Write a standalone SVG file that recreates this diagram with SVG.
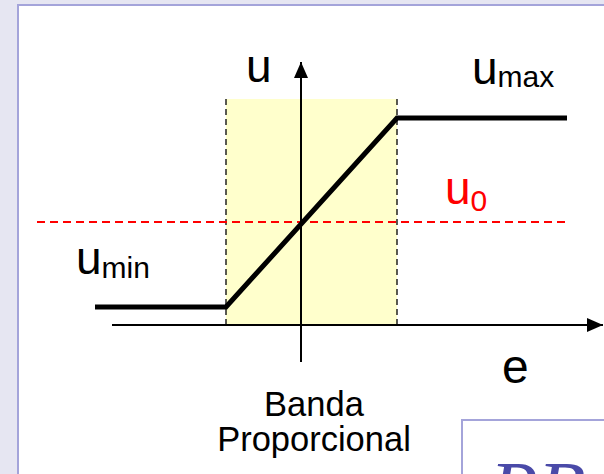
<svg xmlns="http://www.w3.org/2000/svg" width="604" height="474" viewBox="0 0 604 474">
<defs>
<style>
.t{font-family:"Liberation Sans",Arial,sans-serif;fill:#000}
.r{fill:#ff0000}
.ax{stroke:#000;stroke-width:2;fill:none}
.dash{stroke:#000;stroke-width:1.3;stroke-dasharray:6,4;fill:none}
</style>
<marker id="ah" viewBox="0 0 16 14" refX="16" refY="7" markerWidth="16" markerHeight="14" markerUnits="userSpaceOnUse" orient="auto">
<path d="M0,0 L16,7 L0,14 z" fill="#000"/>
</marker>
</defs>
<rect x="0" y="0" width="604" height="474" fill="#e6e6f2"/>
<rect x="18" y="5" width="620" height="500" fill="#fff" stroke="#a4a4da" stroke-width="2"/>
<g id="band">
<rect x="226" y="99" width="171" height="226" fill="#ffffcc"/>
</g>
<g id="connectors">
<line class="dash" x1="226" y1="99" x2="226" y2="325"/>
<line class="dash" x1="397" y1="99" x2="397" y2="325"/>
<line x1="37" y1="222" x2="565" y2="222" stroke="#ff0000" stroke-width="1.8" stroke-dasharray="8,5"/>
<line class="ax" x1="301" y1="362" x2="301" y2="62" marker-end="url(#ah)"/>
<line class="ax" x1="112" y1="325" x2="603" y2="325" marker-end="url(#ah)"/>
<polyline points="95,307 226,307 397,118 567,118" fill="none" stroke="#000" stroke-width="5" stroke-linejoin="miter"/>
</g>
<g id="labels">
<text class="t" x="246" y="82" font-size="46">u</text>
<text class="t" x="472" y="84" font-size="46">u<tspan font-size="30" dy="3">max</tspan></text>
<text class="t r" x="445" y="204" font-size="46">u<tspan font-size="30" dy="7">0</tspan></text>
<text class="t" x="76" y="274" font-size="46">u<tspan font-size="30" dy="4">min</tspan></text>
<text class="t" x="502" y="383" font-size="48">e</text>
<text class="t" x="314" y="416" font-size="34.5" text-anchor="middle">Banda</text>
<text class="t" x="314" y="451" font-size="34.5" text-anchor="middle">Proporcional</text>
</g>
<g id="pb">
<rect x="462" y="420" width="160" height="80" fill="#fff" stroke="#a4a4da" stroke-width="2"/>
<text x="490" y="515" font-family="'Liberation Serif','Times New Roman',serif" font-style="italic" font-size="78" fill="#4a4aa8">PB</text>
</g>
</svg>
